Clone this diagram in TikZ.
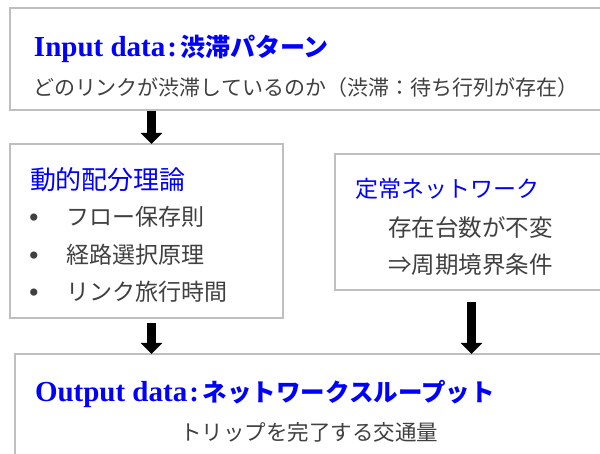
\documentclass[tikz,border=0pt]{standalone}
\usepackage{fontspec}
\setmainfont{Liberation Serif}
\newfontfamily\jp{Noto Sans CJK JP}
\usetikzlibrary{arrows.meta}
\definecolor{bordergray}{RGB}{191,191,191}
\definecolor{txtgray}{RGB}{64,64,64}
\definecolor{ttlblue}{RGB}{0,0,255}
\begin{document}
\begin{tikzpicture}[x=1pt,y=-1pt,
  box/.style={draw=bordergray, line width=2pt, fill=white, rectangle, inner sep=0pt, outer sep=0pt, anchor=north west},
  lbl/.style={inner sep=0pt, outer sep=0pt, anchor=base west},
  ttl/.style={lbl, text=ttlblue},
  body/.style={lbl, text=txtgray},
  bul/.style={inner sep=0pt, outer sep=0pt, anchor=base, text=txtgray, font=\fontsize{30}{30}\selectfont},
  arr/.style={line width=9pt, black, -{Triangle[width=21pt,length=11pt]}}]
\useasboundingbox (0,0) rectangle (600,454);
\clip (0,0) rectangle (600,454);
% boxes
\node[box, minimum width=640pt, minimum height=102pt] (in) at (10,8) {};
\node[box, minimum width=273pt, minimum height=174pt] (dyn) at (10,144) {};
\node[box, minimum width=300pt, minimum height=136pt] (ss) at (335,154) {};
\node[box, minimum width=620pt, minimum height=140pt] (out) at (15,354) {};
% input box texts
\node[ttl] (inT) at (34,57) {\fontsize{29}{29}\selectfont\bfseries Input data\hspace{2pt}:\hspace{3pt}{\jp\fontsize{25}{25}\selectfont 渋滞パターン}};
\node[body] (inS) at (33,96) {\jp\fontsize{21}{21}\selectfont どのリンクが渋滞しているのか（渋滞：待ち行列が存在）};
% dynamic assignment box
\node[ttl] (dynT) at (30,190) {\jp\fontsize{26}{26}\selectfont 動的配分理論};
\node[bul] (b1) at (34,228) {•};
\node[bul] (b2) at (34,266) {•};
\node[bul] (b3) at (34,303) {•};
\node[body] (i1) at (66,225.7) {\jp\fontsize{23}{23}\selectfont フロー保存則};
\node[body] (i2) at (66,263.7) {\jp\fontsize{23}{23}\selectfont 経路選択原理};
\node[body] (i3) at (66,300.7) {\jp\fontsize{23}{23}\selectfont リンク旅行時間};
% steady network box
\node[ttl] (ssT) at (355,198) {\jp\fontsize{23}{23}\selectfont 定常ネットワーク};
\node[body] (ss1) at (388,237) {\jp\fontsize{23.5}{23.5}\selectfont 存在台数が不変};
\node[body] (ss2) at (388,274) {\jp\fontsize{23.5}{23.5}\selectfont ⇒周期境界条件};
% output box texts
\node[ttl] (outT) at (35,401) {\fontsize{29}{29}\selectfont\bfseries Output data\hspace{2pt}:\hspace{4pt}{\jp\fontsize{24.5}{24.5}\selectfont ネットワークスループット}};
\node[body] (outS) at (180,440) {\jp\fontsize{21.5}{21.5}\selectfont トリップを完了する交通量};
% arrows
\coordinate (a1) at (151.5,111);
\coordinate (a2) at (151.5,323);
\coordinate (a3) at (471.5,302);
\draw[arr] (a1) -- (a1 |- dyn.north);
\draw[arr] (a2) -- (a2 |- out.north);
\draw[arr] (a3) -- (a3 |- out.north);
\end{tikzpicture}
\end{document}
